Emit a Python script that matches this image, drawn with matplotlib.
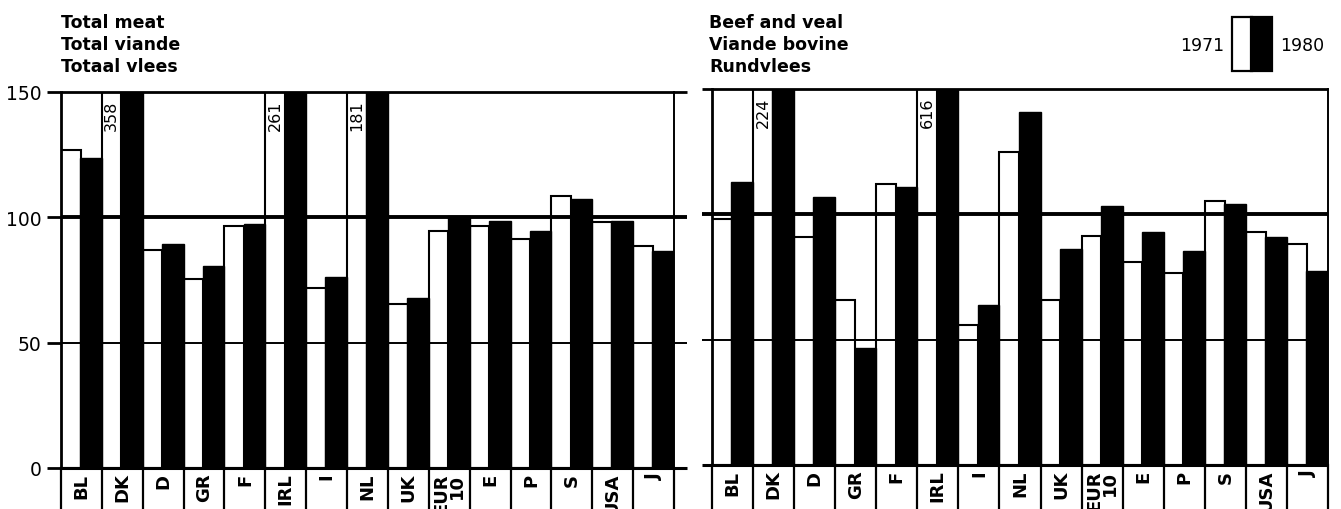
import numpy as np
import matplotlib.pyplot as plt
from matplotlib.patches import Rectangle

plt.rcParams['font.family'] = ['DejaVu Sans']
plt.rcParams['font.size'] = 12

countries = ['BL', 'DK', 'D', 'GR', 'F', 'IRL', 'I', 'NL', 'UK', 'EUR\n10',
             'E', 'P', 'S', 'USA', 'J']

# self-sufficiency, %  (values above 150 are cut off and written in the bar)
meat_1971 = [127, 358, 87, 75.5, 96.5, 261, 72, 181, 65.5, 94.5, 96.5, 91.5, 108.5, 98, 88.5]
meat_1980 = [123.5, 340, 89.5, 80.5, 97.5, 250, 76, 190, 68, 100.5, 98.5, 94.5, 107.5, 98.5, 86.5]
beef_1971 = [98, 224, 91, 66, 112, 616, 56, 125, 66, 91.5, 81, 76.5, 105.5, 93, 88]
beef_1980 = [113, 240, 107, 46.5, 111, 590, 64, 141, 86, 103.5, 93, 85.5, 104, 91, 77.5]

labels_meat = {1: '358', 5: '261', 7: '181'}
labels_beef = {1: '224', 5: '616'}

fig = plt.figure(figsize=(13.41, 5.10), dpi=100)
ax1 = fig.add_axes([61 / 1341, 41 / 510, 613 / 1341, 376 / 510])
ax2 = fig.add_axes([712 / 1341, 44 / 510, 616 / 1341, 376 / 510])


def draw_panel(ax, v71, v80, labels, ext):
    x = np.arange(len(countries))
    ax.bar(x, v71, width=0.48, align='edge', color='white', edgecolor='black',
           linewidth=1.5, zorder=1)
    ax.bar(x + 0.47, v80, width=0.53, align='edge', color='black',
           edgecolor='black', linewidth=1.0, zorder=3)
    ax.set_xlim(0, len(countries))
    ax.set_ylim(0, 150)

    # horizontal rules, running a little past the frame
    tr = ax.get_yaxis_transform()
    for y, lw in [(0, 2.2), (50, 1.4), (100, 2.8), (150, 2.0)]:
        ax.plot([ext[0], ext[1]], [y, y], color='black', lw=lw,
                transform=tr, clip_on=False, zorder=2, solid_capstyle='butt')

    for s in ['top', 'bottom']:
        ax.spines[s].set_visible(False)
    ax.spines['left'].set_linewidth(2.0)
    ax.spines['right'].set_linewidth(1.4)
    ax.set_xticks([])

    # country boxes under the zero line
    xt = ax.get_xaxis_transform()
    for i in range(len(countries) + 1):
        ax.plot([i, i], [0, -0.2], color='black', lw=1.6, transform=xt,
                clip_on=False)
    for i, c in enumerate(countries):
        ax.text(i + 0.5, -1.8, c, rotation=90, ha='center', va='top',
                multialignment='right', fontsize=13, fontweight='bold',
                linespacing=0.8, clip_on=False)

    for i, t in labels.items():
        ax.text(i + 0.24, 147, t, rotation=90, ha='center', va='top',
                fontsize=11.5, zorder=4)


draw_panel(ax1, meat_1971, meat_1980, labels_meat, (0, 1.021))
draw_panel(ax2, beef_1971, beef_1980, labels_beef, (-0.017, 1))

ax1.set_yticks([0, 50, 100, 150])
ax1.tick_params(axis='y', length=10, width=2, pad=4, labelsize=13.5)
ax2.set_yticks([])

fig.text(61 / 1341, 1 - 14 / 510, 'Total meat\nTotal viande\nTotaal vlees',
         ha='left', va='top', fontsize=12.5, fontweight='bold', linespacing=1.3)
fig.text(709 / 1341, 1 - 14 / 510, 'Beef and veal\nViande bovine\nRundvlees',
         ha='left', va='top', fontsize=12.5, fontweight='bold', linespacing=1.3)

# key
fig.patches.append(Rectangle((1232 / 1341, 1 - 72 / 510), 20 / 1341, 54 / 510,
                             transform=fig.transFigure, facecolor='white',
                             edgecolor='black', lw=1.6))
fig.patches.append(Rectangle((1251 / 1341, 1 - 72 / 510), 21 / 1341, 54 / 510,
                             transform=fig.transFigure, facecolor='black',
                             edgecolor='black', lw=1.6))
fig.text(1224 / 1341, 1 - 46 / 510, '1971', ha='right', va='center', fontsize=12.5)
fig.text(1280 / 1341, 1 - 46 / 510, '1980', ha='left', va='center', fontsize=12.5)

fig.savefig('out.png', dpi=100)
